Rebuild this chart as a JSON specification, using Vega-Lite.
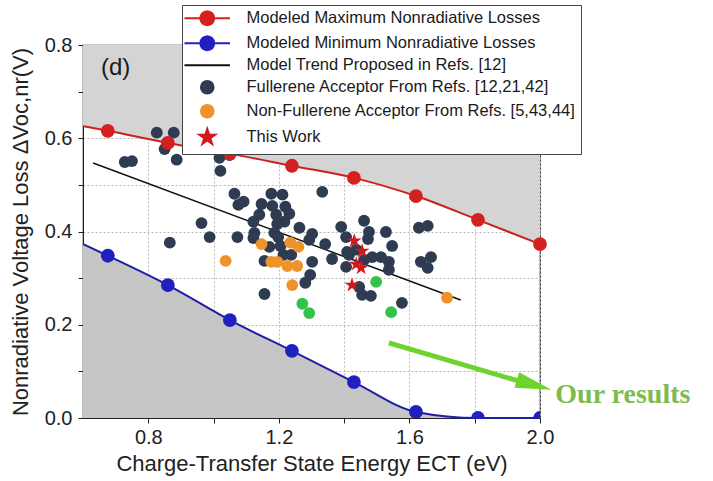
{
  "$schema": "https://vega.github.io/schema/vega-lite/v6.json",
  "width": 457,
  "height": 373,
  "autosize": {"type": "none"},
  "padding": {"left": 83, "top": 45, "right": 173, "bottom": 63},
  "background": "white",
  "config": {"font": "Liberation Sans", "view": {"stroke": "#222", "strokeWidth": 1.2}},
  "datasets": {
    "curves": [
      {"E": 0.6, "V": 0.626, "series": "Modeled Maximum Nonradiative Losses"},
      {"E": 0.676, "V": 0.616, "series": "Modeled Maximum Nonradiative Losses"},
      {"E": 0.86, "V": 0.59, "series": "Modeled Maximum Nonradiative Losses"},
      {"E": 1.05, "V": 0.567, "series": "Modeled Maximum Nonradiative Losses"},
      {"E": 1.24, "V": 0.541, "series": "Modeled Maximum Nonradiative Losses"},
      {"E": 1.43, "V": 0.515, "series": "Modeled Maximum Nonradiative Losses"},
      {"E": 1.62, "V": 0.476, "series": "Modeled Maximum Nonradiative Losses"},
      {"E": 1.81, "V": 0.425, "series": "Modeled Maximum Nonradiative Losses"},
      {"E": 2.0, "V": 0.373, "series": "Modeled Maximum Nonradiative Losses"},
      {"E": 0.6, "V": 0.373, "series": "Modeled Minimum Nonradiative Losses"},
      {"E": 0.676, "V": 0.348, "series": "Modeled Minimum Nonradiative Losses"},
      {"E": 0.86, "V": 0.285, "series": "Modeled Minimum Nonradiative Losses"},
      {"E": 1.05, "V": 0.21, "series": "Modeled Minimum Nonradiative Losses"},
      {"E": 1.24, "V": 0.144, "series": "Modeled Minimum Nonradiative Losses"},
      {"E": 1.43, "V": 0.077, "series": "Modeled Minimum Nonradiative Losses"},
      {"E": 1.62, "V": 0.013, "series": "Modeled Minimum Nonradiative Losses"},
      {"E": 1.81, "V": 0.0, "series": "Modeled Minimum Nonradiative Losses"},
      {"E": 2.0, "V": 0.0, "series": "Modeled Minimum Nonradiative Losses"},
      {"E": 0.631, "V": 0.547, "series": "Model Trend Proposed in Refs. [12]"},
      {"E": 1.757, "V": 0.253, "series": "Model Trend Proposed in Refs. [12]"}
    ],
    "arrow": [{"E": 1.537, "V": 0.161}, {"E": 1.965, "V": 0.073}],
    "arrowHead": [{"E": 1.982, "V": 0.071}],
    "scatter": [
      {"E": 0.826, "V": 0.612, "group": "Fullerene Acceptor From Refs. [12,21,42]"},
      {"E": 0.878, "V": 0.612, "group": "Fullerene Acceptor From Refs. [12,21,42]"},
      {"E": 0.85, "V": 0.577, "group": "Fullerene Acceptor From Refs. [12,21,42]"},
      {"E": 0.887, "V": 0.554, "group": "Fullerene Acceptor From Refs. [12,21,42]"},
      {"E": 0.728, "V": 0.549, "group": "Fullerene Acceptor From Refs. [12,21,42]"},
      {"E": 0.75, "V": 0.551, "group": "Fullerene Acceptor From Refs. [12,21,42]"},
      {"E": 1.018, "V": 0.558, "group": "Fullerene Acceptor From Refs. [12,21,42]"},
      {"E": 1.049, "V": 0.564, "group": "Fullerene Acceptor From Refs. [12,21,42]"},
      {"E": 1.021, "V": 0.53, "group": "Fullerene Acceptor From Refs. [12,21,42]"},
      {"E": 1.064, "V": 0.481, "group": "Fullerene Acceptor From Refs. [12,21,42]"},
      {"E": 1.092, "V": 0.464, "group": "Fullerene Acceptor From Refs. [12,21,42]"},
      {"E": 1.076, "V": 0.457, "group": "Fullerene Acceptor From Refs. [12,21,42]"},
      {"E": 0.963, "V": 0.418, "group": "Fullerene Acceptor From Refs. [12,21,42]"},
      {"E": 0.988, "V": 0.388, "group": "Fullerene Acceptor From Refs. [12,21,42]"},
      {"E": 1.073, "V": 0.388, "group": "Fullerene Acceptor From Refs. [12,21,42]"},
      {"E": 0.866, "V": 0.376, "group": "Fullerene Acceptor From Refs. [12,21,42]"},
      {"E": 1.147, "V": 0.459, "group": "Fullerene Acceptor From Refs. [12,21,42]"},
      {"E": 1.18, "V": 0.455, "group": "Fullerene Acceptor From Refs. [12,21,42]"},
      {"E": 1.22, "V": 0.453, "group": "Fullerene Acceptor From Refs. [12,21,42]"},
      {"E": 1.177, "V": 0.481, "group": "Fullerene Acceptor From Refs. [12,21,42]"},
      {"E": 1.211, "V": 0.479, "group": "Fullerene Acceptor From Refs. [12,21,42]"},
      {"E": 1.14, "V": 0.436, "group": "Fullerene Acceptor From Refs. [12,21,42]"},
      {"E": 1.192, "V": 0.436, "group": "Fullerene Acceptor From Refs. [12,21,42]"},
      {"E": 1.232, "V": 0.438, "group": "Fullerene Acceptor From Refs. [12,21,42]"},
      {"E": 1.122, "V": 0.421, "group": "Fullerene Acceptor From Refs. [12,21,42]"},
      {"E": 1.217, "V": 0.421, "group": "Fullerene Acceptor From Refs. [12,21,42]"},
      {"E": 1.195, "V": 0.416, "group": "Fullerene Acceptor From Refs. [12,21,42]"},
      {"E": 1.125, "V": 0.397, "group": "Fullerene Acceptor From Refs. [12,21,42]"},
      {"E": 1.186, "V": 0.397, "group": "Fullerene Acceptor From Refs. [12,21,42]"},
      {"E": 1.122, "V": 0.386, "group": "Fullerene Acceptor From Refs. [12,21,42]"},
      {"E": 1.198, "V": 0.388, "group": "Fullerene Acceptor From Refs. [12,21,42]"},
      {"E": 1.263, "V": 0.408, "group": "Fullerene Acceptor From Refs. [12,21,42]"},
      {"E": 1.333, "V": 0.485, "group": "Fullerene Acceptor From Refs. [12,21,42]"},
      {"E": 1.302, "V": 0.395, "group": "Fullerene Acceptor From Refs. [12,21,42]"},
      {"E": 1.293, "V": 0.382, "group": "Fullerene Acceptor From Refs. [12,21,42]"},
      {"E": 1.342, "V": 0.373, "group": "Fullerene Acceptor From Refs. [12,21,42]"},
      {"E": 1.205, "V": 0.369, "group": "Fullerene Acceptor From Refs. [12,21,42]"},
      {"E": 1.171, "V": 0.367, "group": "Fullerene Acceptor From Refs. [12,21,42]"},
      {"E": 1.214, "V": 0.35, "group": "Fullerene Acceptor From Refs. [12,21,42]"},
      {"E": 1.238, "V": 0.35, "group": "Fullerene Acceptor From Refs. [12,21,42]"},
      {"E": 1.156, "V": 0.337, "group": "Fullerene Acceptor From Refs. [12,21,42]"},
      {"E": 1.302, "V": 0.335, "group": "Fullerene Acceptor From Refs. [12,21,42]"},
      {"E": 1.296, "V": 0.307, "group": "Fullerene Acceptor From Refs. [12,21,42]"},
      {"E": 1.281, "V": 0.29, "group": "Fullerene Acceptor From Refs. [12,21,42]"},
      {"E": 1.156, "V": 0.266, "group": "Fullerene Acceptor From Refs. [12,21,42]"},
      {"E": 1.391, "V": 0.41, "group": "Fullerene Acceptor From Refs. [12,21,42]"},
      {"E": 1.406, "V": 0.388, "group": "Fullerene Acceptor From Refs. [12,21,42]"},
      {"E": 1.461, "V": 0.423, "group": "Fullerene Acceptor From Refs. [12,21,42]"},
      {"E": 1.476, "V": 0.399, "group": "Fullerene Acceptor From Refs. [12,21,42]"},
      {"E": 1.473, "V": 0.384, "group": "Fullerene Acceptor From Refs. [12,21,42]"},
      {"E": 1.528, "V": 0.399, "group": "Fullerene Acceptor From Refs. [12,21,42]"},
      {"E": 1.409, "V": 0.356, "group": "Fullerene Acceptor From Refs. [12,21,42]"},
      {"E": 1.437, "V": 0.361, "group": "Fullerene Acceptor From Refs. [12,21,42]"},
      {"E": 1.406, "V": 0.324, "group": "Fullerene Acceptor From Refs. [12,21,42]"},
      {"E": 1.461, "V": 0.339, "group": "Fullerene Acceptor From Refs. [12,21,42]"},
      {"E": 1.486, "V": 0.345, "group": "Fullerene Acceptor From Refs. [12,21,42]"},
      {"E": 1.513, "V": 0.345, "group": "Fullerene Acceptor From Refs. [12,21,42]"},
      {"E": 1.537, "V": 0.335, "group": "Fullerene Acceptor From Refs. [12,21,42]"},
      {"E": 1.547, "V": 0.369, "group": "Fullerene Acceptor From Refs. [12,21,42]"},
      {"E": 1.537, "V": 0.318, "group": "Fullerene Acceptor From Refs. [12,21,42]"},
      {"E": 1.446, "V": 0.281, "group": "Fullerene Acceptor From Refs. [12,21,42]"},
      {"E": 1.455, "V": 0.264, "group": "Fullerene Acceptor From Refs. [12,21,42]"},
      {"E": 1.482, "V": 0.262, "group": "Fullerene Acceptor From Refs. [12,21,42]"},
      {"E": 1.577, "V": 0.247, "group": "Fullerene Acceptor From Refs. [12,21,42]"},
      {"E": 1.629, "V": 0.408, "group": "Fullerene Acceptor From Refs. [12,21,42]"},
      {"E": 1.656, "V": 0.412, "group": "Fullerene Acceptor From Refs. [12,21,42]"},
      {"E": 1.635, "V": 0.335, "group": "Fullerene Acceptor From Refs. [12,21,42]"},
      {"E": 1.666, "V": 0.345, "group": "Fullerene Acceptor From Refs. [12,21,42]"},
      {"E": 1.656, "V": 0.322, "group": "Fullerene Acceptor From Refs. [12,21,42]"},
      {"E": 1.363, "V": 0.341, "group": "Fullerene Acceptor From Refs. [12,21,42]"},
      {"E": 1.415, "V": 0.35, "group": "Fullerene Acceptor From Refs. [12,21,42]"},
      {"E": 1.037, "V": 0.337, "group": "Non-Fullerene Acceptor From Refs. [5,43,44]"},
      {"E": 1.147, "V": 0.373, "group": "Non-Fullerene Acceptor From Refs. [5,43,44]"},
      {"E": 1.235, "V": 0.376, "group": "Non-Fullerene Acceptor From Refs. [5,43,44]"},
      {"E": 1.26, "V": 0.367, "group": "Non-Fullerene Acceptor From Refs. [5,43,44]"},
      {"E": 1.195, "V": 0.335, "group": "Non-Fullerene Acceptor From Refs. [5,43,44]"},
      {"E": 1.177, "V": 0.335, "group": "Non-Fullerene Acceptor From Refs. [5,43,44]"},
      {"E": 1.226, "V": 0.326, "group": "Non-Fullerene Acceptor From Refs. [5,43,44]"},
      {"E": 1.256, "V": 0.326, "group": "Non-Fullerene Acceptor From Refs. [5,43,44]"},
      {"E": 1.241, "V": 0.285, "group": "Non-Fullerene Acceptor From Refs. [5,43,44]"},
      {"E": 1.715, "V": 0.258, "group": "Non-Fullerene Acceptor From Refs. [5,43,44]"},
      {"E": 1.272, "V": 0.245, "group": "Our results"},
      {"E": 1.293, "V": 0.225, "group": "Our results"},
      {"E": 1.498, "V": 0.292, "group": "Our results"},
      {"E": 1.544, "V": 0.227, "group": "Our results"},
      {"E": 1.431, "V": 0.38, "group": "This Work"},
      {"E": 1.455, "V": 0.358, "group": "This Work"},
      {"E": 1.437, "V": 0.33, "group": "This Work"},
      {"E": 1.452, "V": 0.322, "group": "This Work"},
      {"E": 1.424, "V": 0.285, "group": "This Work"}
    ]
  },
  "layer": [
    {
      "data": {"name": "curves"},
      "transform": [{"filter": "datum.series == 'Modeled Maximum Nonradiative Losses'"}],
      "mark": {"type": "area", "interpolate": "monotone", "color": "#d4d4d4"},
      "encoding": {
        "x": {"field": "E", "type": "quantitative", "scale": {"domain": [0.6, 2.0], "nice": false, "zero": false},
          "axis": {"values": [0.8, 1.0, 1.2, 1.4, 1.6, 1.8, 2.0],
            "labelExpr": "round(datum.value*10)%4==0 ? format(datum.value,'.1f') : ''",
            "title": "Charge-Transfer State Energy ECT (eV)",
            "grid": true, "gridDash": [2, 2], "gridColor": "#b8b8b8",
            "tickSize": 5, "tickColor": "#222", "domainColor": "#222",
            "labelFontSize": 20, "labelColor": "#222", "labelPadding": 4, "labelFlush": false, "labelOverlap": false,
            "titleFontSize": 22, "titleFontWeight": "normal", "titleColor": "#222", "titlePadding": 6}},
        "y": {"field": "V", "type": "quantitative", "scale": {"domain": [0, 0.8], "nice": false, "zero": false},
          "axis": {"values": [0, 0.1, 0.2, 0.3, 0.4, 0.5, 0.6, 0.7, 0.8],
            "labelExpr": "round(datum.value*10)%2==0 ? format(datum.value,'.1f') : ''",
            "title": "Nonradiative Voltage Loss ΔVoc,nr(V)",
            "grid": true, "gridDash": [2, 2], "gridColor": "#b8b8b8",
            "tickSize": 5, "tickColor": "#222", "domainColor": "#222",
            "labelFontSize": 20, "labelColor": "#222", "labelPadding": 6, "labelFlush": false, "labelOverlap": false,
            "titleFontSize": 22, "titleFontWeight": "normal", "titleColor": "#222", "titlePadding": 12}},
        "y2": {"datum": 0.8}
      }
    },
    {
      "data": {"name": "curves"},
      "transform": [{"filter": "datum.series == 'Modeled Minimum Nonradiative Losses'"}],
      "mark": {"type": "area", "interpolate": "monotone", "color": "#c6c6c6"},
      "encoding": {
        "x": {"field": "E", "type": "quantitative"},
        "y": {"field": "V", "type": "quantitative"},
        "y2": {"datum": 0}
      }
    },
    {
      "data": {"name": "curves"},
      "transform": [{"filter": "datum.series == 'Model Trend Proposed in Refs. [12]'"}],
      "mark": {"type": "line", "color": "#111", "strokeWidth": 1.5},
      "encoding": {
        "x": {"field": "E", "type": "quantitative"},
        "y": {"field": "V", "type": "quantitative"}
      }
    },
    {
      "data": {"name": "curves"},
      "transform": [{"filter": "datum.series == 'Modeled Maximum Nonradiative Losses'"}],
      "mark": {"type": "line", "interpolate": "monotone", "color": "#cc2020", "strokeWidth": 2},
      "encoding": {
        "x": {"field": "E", "type": "quantitative"},
        "y": {"field": "V", "type": "quantitative"}
      }
    },
    {
      "data": {"name": "curves"},
      "transform": [{"filter": "datum.series == 'Modeled Minimum Nonradiative Losses'"}],
      "mark": {"type": "line", "interpolate": "monotone", "color": "#1e1ea8", "strokeWidth": 2},
      "encoding": {
        "x": {"field": "E", "type": "quantitative"},
        "y": {"field": "V", "type": "quantitative"}
      }
    },
    {
      "data": {"name": "scatter"},
      "mark": {"type": "point", "filled": true, "size": 140, "opacity": 1},
      "encoding": {
        "x": {"field": "E", "type": "quantitative"},
        "y": {"field": "V", "type": "quantitative"},
        "color": {"field": "group", "type": "nominal",
          "scale": {"domain": ["Modeled Maximum Nonradiative Losses", "Modeled Minimum Nonradiative Losses", "Model Trend Proposed in Refs. [12]", "Fullerene Acceptor From Refs. [12,21,42]", "Non-Fullerene Acceptor From Refs. [5,43,44]", "This Work", "Our results"],
            "range": ["#d42020", "#2020c0", "#111111", "#2e3b50", "#f0922a", "#d3181c", "#34c34a"]},
          "legend": {"title": null, "orient": "none", "legendX": 99, "legendY": -40,
            "values": ["Modeled Maximum Nonradiative Losses", "Modeled Minimum Nonradiative Losses", "Model Trend Proposed in Refs. [12]", "Fullerene Acceptor From Refs. [12,21,42]", "Non-Fullerene Acceptor From Refs. [5,43,44]", "This Work"],
            "fillColor": "white", "strokeColor": "#444", "padding": 5,
            "labelFont": "Liberation Sans", "labelFontSize": 16.5, "labelColor": "#1a1a1a", "labelLimit": 420,
            "symbolSize": 160, "symbolOffset": 12, "labelOffset": 31, "rowPadding": 2, "symbolOpacity": 1, "symbolStrokeWidth": 2,
            "encode": {"symbols": {"update": {"stroke": {"scale": "color", "field": "value"}, "strokeWidth": {"value": 2}}}}}},
        "shape": {"field": "group", "type": "nominal",
          "scale": {"domain": ["Modeled Maximum Nonradiative Losses", "Modeled Minimum Nonradiative Losses", "Model Trend Proposed in Refs. [12]", "Fullerene Acceptor From Refs. [12,21,42]", "Non-Fullerene Acceptor From Refs. [5,43,44]", "This Work", "Our results"],
            "range": [
              "M-3.6,0L-1.1,0M1.1,0L3.6,0M1.1,0L1.016,0.421L0.778,0.778L0.421,1.016L0,1.1L-0.421,1.016L-0.778,0.778L-1.016,0.421L-1.1,0L-1.016,-0.421L-0.778,-0.778L-0.421,-1.016L0,-1.1L0.421,-1.016L0.778,-0.778L1.016,-0.421Z",
              "M-3.6,0L-1.1,0M1.1,0L3.6,0M1.1,0L1.016,0.421L0.778,0.778L0.421,1.016L0,1.1L-0.421,1.016L-0.778,0.778L-1.016,0.421L-1.1,0L-1.016,-0.421L-0.778,-0.778L-0.421,-1.016L0,-1.1L0.421,-1.016L0.778,-0.778L1.016,-0.421Z",
              "M-3.6,0L3.6,0",
              "circle",
              "circle",
              "M0,-1.32L0.296,-0.408L1.255,-0.408L0.48,0.156L0.776,1.068L0,0.504L-0.776,1.068L-0.48,0.156L-1.255,-0.408L-0.296,-0.408Z",
              "circle"]}}
      }
    },
    {
      "data": {"name": "curves"},
      "transform": [{"filter": "datum.series == 'Modeled Maximum Nonradiative Losses' && datum.E != 0.6"}],
      "mark": {"type": "point", "filled": true, "size": 190, "opacity": 1, "color": "#d42020"},
      "encoding": {
        "x": {"field": "E", "type": "quantitative"},
        "y": {"field": "V", "type": "quantitative"}
      }
    },
    {
      "data": {"name": "curves"},
      "transform": [{"filter": "datum.series == 'Modeled Minimum Nonradiative Losses' && datum.E != 0.6"}],
      "mark": {"type": "point", "filled": true, "size": 190, "opacity": 1, "color": "#2020c0", "clip": true},
      "encoding": {
        "x": {"field": "E", "type": "quantitative"},
        "y": {"field": "V", "type": "quantitative"}
      }
    },
    {
      "data": {"name": "arrow"},
      "mark": {"type": "line", "color": "#6cd42c", "strokeWidth": 5},
      "encoding": {
        "x": {"field": "E", "type": "quantitative"},
        "y": {"field": "V", "type": "quantitative"}
      }
    },
    {
      "data": {"name": "arrowHead"},
      "mark": {"type": "text", "text": "(d)", "font": "Liberation Sans", "fontSize": 24, "color": "#1a1a1a", "align": "left", "baseline": "middle"},
      "encoding": {
        "x": {"datum": 0.655, "type": "quantitative"},
        "y": {"datum": 0.751, "type": "quantitative"}
      }
    },
    {
      "data": {"name": "arrowHead"},
      "mark": {"type": "text", "text": "Our results", "font": "Liberation Serif", "fontWeight": "bold", "fontSize": 28, "color": "#7dbb4f", "align": "left", "baseline": "alphabetic"},
      "encoding": {
        "x": {"datum": 2.047, "type": "quantitative"},
        "y": {"datum": 0.032, "type": "quantitative"}
      }
    },
    {
      "data": {"name": "arrowHead"},
      "mark": {"type": "point", "shape": "M-1,-0.45L1,0L-1,0.45Z", "filled": true, "size": 1296, "angle": 16, "color": "#6cd42c", "opacity": 1},
      "encoding": {
        "x": {"field": "E", "type": "quantitative"},
        "y": {"field": "V", "type": "quantitative"}
      }
    }
  ]
}
